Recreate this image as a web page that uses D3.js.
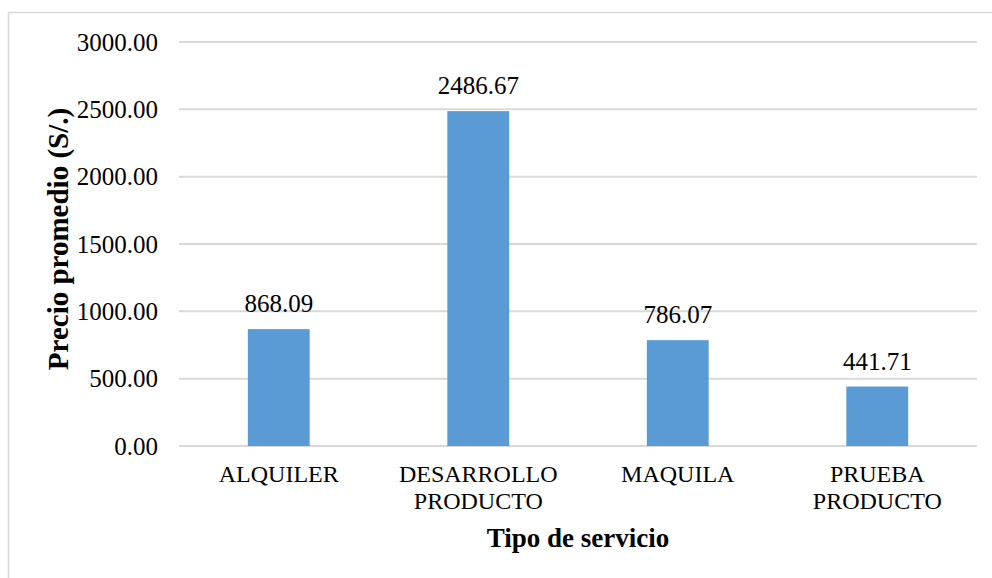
<!DOCTYPE html>
<html lang="es">
<head>
<meta charset="UTF-8">
<title>Precio promedio por tipo de servicio</title>
<script src="https://d3js.org/d3.v7.min.js"></script>
<style>
    body { margin: 0; background: #fff; }
    svg { font-family: "Liberation Serif", "Times New Roman", serif; }
    .cat-label { font-size: 24px; fill: #000; }
    .tick-label, .value-label { font-size: 25px; fill: #000; }
    .axis-title { font-size: 27px; font-weight: bold; fill: #000; }
    .y-title { font-size: 29px; }
    .grid line { stroke: #d9d9d9; stroke-width: 2px; }
</style>
</head>
<body>
<div id="chart"></div>
<script>
    // Chart data
    const categories = [["ALQUILER"], ["DESARROLLO", "PRODUCTO"], ["MAQUILA"], ["PRUEBA", "PRODUCTO"]];
    const values = [868.09, 2486.67, 786.07, 441.71];
    const yTicks = [0, 500, 1000, 1500, 2000, 2500, 3000];

    const W = 992, H = 578;
    const margin = { top: 42, right: 15, bottom: 132, left: 179 };
    const width = W - margin.left - margin.right;
    const height = H - margin.top - margin.bottom;

    const svg = d3.select("#chart").append("svg")
        .attr("width", W)
        .attr("height", H);

    // outer chart border
    svg.append("rect")
        .attr("x", 8.5).attr("y", 12.5)
        .attr("width", W).attr("height", H)
        .attr("fill", "none")
        .attr("stroke", "#d9d9d9")
        .attr("stroke-width", 1.5);

    const g = svg.append("g")
        .attr("transform", `translate(${margin.left},${margin.top})`);

    const x = d3.scaleBand()
        .domain(d3.range(values.length))
        .range([0, width]);

    const y = d3.scaleLinear()
        .domain([0, 3000])
        .range([height, 0]);

    // gridlines
    g.append("g").attr("class", "grid")
        .selectAll("line")
        .data(yTicks)
        .join("line")
        .attr("x1", 0).attr("x2", width)
        .attr("y1", d => y(d)).attr("y2", d => y(d));

    // y tick labels
    g.append("g")
        .selectAll("text")
        .data(yTicks)
        .join("text")
        .attr("class", "tick-label")
        .attr("x", -21)
        .attr("y", d => y(d))
        .attr("dy", "0.35em")
        .attr("text-anchor", "end")
        .text(d => d3.format(".2f")(d));

    // bars
    const barW = x.bandwidth() * 0.31;
    g.selectAll(".bar")
        .data(values)
        .join("rect")
        .attr("class", "bar")
        .attr("x", (d, i) => x(i) + (x.bandwidth() - barW) / 2)
        .attr("y", d => y(d))
        .attr("width", barW)
        .attr("height", d => height - y(d))
        .attr("fill", "#5b9bd5");

    // value labels
    g.selectAll(".value-label")
        .data(values)
        .join("text")
        .attr("class", "value-label")
        .attr("x", (d, i) => x(i) + x.bandwidth() / 2)
        .attr("y", d => y(d) - 17)
        .attr("text-anchor", "middle")
        .text(d => d3.format(".2f")(d));

    // category labels
    const cat = g.selectAll(".cat-label")
        .data(categories)
        .join("text")
        .attr("class", "cat-label")
        .attr("text-anchor", "middle")
        .attr("transform", (d, i) => `translate(${x(i) + x.bandwidth() / 2},${height + 36})`);
    cat.selectAll("tspan")
        .data(d => d)
        .join("tspan")
        .attr("x", 0)
        .attr("y", (d, i) => i * 27)
        .text(d => d);

    // axis titles
    g.append("text")
        .attr("class", "axis-title")
        .attr("x", width / 2)
        .attr("y", height + 101)
        .attr("text-anchor", "middle")
        .text("Tipo de servicio");

    g.append("text")
        .attr("class", "axis-title y-title")
        .attr("transform", `translate(${68 - margin.left},${height / 2 - 5}) rotate(-90)`)
        .attr("text-anchor", "middle")
        .text("Precio promedio (S/.)");
</script>
</body>
</html>
